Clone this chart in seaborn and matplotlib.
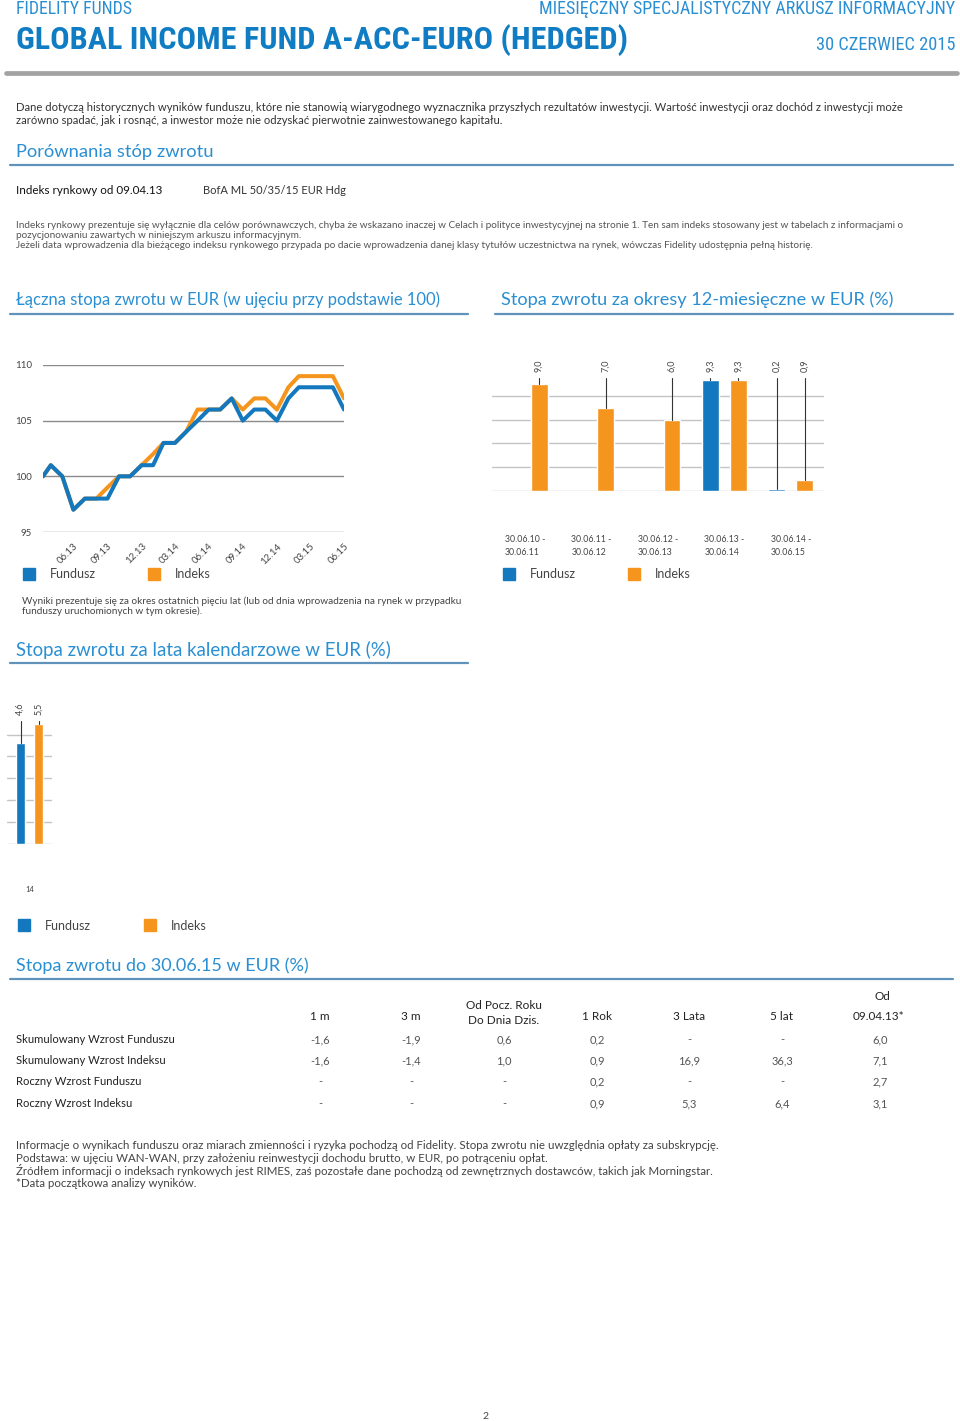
import numpy as np
import pandas as pd
import seaborn as sns
import matplotlib.pyplot as plt
from matplotlib import font_manager
from matplotlib.patches import Rectangle
from matplotlib.lines import Line2D

line_dates = ['2013-04-09', '2013-04-30', '2013-05-31', '2013-06-30', '2013-07-31',
              '2013-08-31', '2013-09-30', '2013-10-31', '2013-11-30', '2013-12-31',
              '2014-01-31', '2014-02-28', '2014-03-31', '2014-04-30', '2014-05-31',
              '2014-06-30', '2014-07-31', '2014-08-31', '2014-09-30', '2014-10-31',
              '2014-11-30', '2014-12-31', '2015-01-31', '2015-02-28', '2015-03-31',
              '2015-04-30', '2015-05-31', '2015-06-30']
fund_100 = [100, 101, 100, 97, 98, 98, 98, 100, 100, 101, 101, 103, 103, 104,
            105, 106, 106, 107, 105, 106, 106, 105, 107, 108, 108, 108, 108, 106]
index_100 = [100, 101, 100, 97, 98, 98, 99, 100, 100, 101, 102, 103, 103, 104,
             106, 106, 106, 107, 106, 107, 107, 106, 108, 109, 109, 109, 109, 107]
line_tick_dates = ['2013-06-30', '2013-09-30', '2013-12-31', '2014-03-31', '2014-06-30',
                   '2014-09-30', '2014-12-31', '2015-03-31', '2015-06-30']
line_tick_labels = ['06.13', '09.13', '12.13', '03.14', '06.14', '09.14', '12.14', '03.15', '06.15']

periods = ['30.06.10 -\n30.06.11', '30.06.11 -\n30.06.12', '30.06.12 -\n30.06.13',
           '30.06.13 -\n30.06.14', '30.06.14 -\n30.06.15']
fund_12m = [np.nan, np.nan, np.nan, 9.3, 0.2]
index_12m = [9.0, 7.0, 6.0, 9.3, 0.9]

years = ['14']
fund_cal = [4.6]
index_cal = [5.5]

table_cols = ['1 m', '3 m', 'Od Pocz. Roku\nDo Dnia Dzis.', '1 Rok', '3 Lata', '5 lat', 'Od\n09.04.13*']
table_rows = ['Skumulowany Wzrost Funduszu', 'Skumulowany Wzrost Indeksu',
              'Roczny Wzrost Funduszu', 'Roczny Wzrost Indeksu']
cum_fund = ['-1,6', '-1,9', '0,6', '0,2', '-', '-', '6,0']
cum_index = ['-1,6', '-1,4', '1,0', '0,9', '16,9', '36,3', '7,1']
ann_fund = ['-', '-', '-', '0,2', '-', '-', '2,7']
ann_index = ['-', '-', '-', '0,9', '5,3', '6,4', '3,1']

BLUE = '#1378bd'
ORANGE = '#f5951e'
HEAD = '#2a8fd2'
RULE = '#5f93bb'
TXT = '#333333'

sns.set_style('white')
plt.rcParams['font.family'] = ['Lato', 'DejaVu Sans']

# a condensed face for the header, if one is installed
avail = {f.name for f in font_manager.fontManager.ttflist}
narrow = next((n for n in ['Liberation Sans Narrow', 'Roboto Condensed', 'DejaVu Sans Condensed',
                           'Open Sans Condensed'] if n in avail), 'Roboto')

W, H = 960, 1421
fig = plt.figure(figsize=(W / 100, H / 100), dpi=100)
renderer = fig.canvas.get_renderer()


def fx(x):
    return x / W


def fy(y):
    return 1 - y / H


def text(x, y, s, width=None, **kw):
    kw.setdefault('va', 'center')
    kw.setdefault('color', TXT)
    t = fig.text(fx(x), fy(y + 1.5), s, **kw)
    if width:
        # scale the font so the line is as long as in the reference
        w = t.get_window_extent(renderer).width
        t.set_fontsize(t.get_fontsize() * width / w)
    return t


def hrule(x0, x1, y, color=RULE, lw=1.6):
    fig.add_artist(Line2D([fx(x0), fx(x1)], [fy(y), fy(y)], color=color, lw=lw,
                          transform=fig.transFigure))


def px_axes(x0, y0, x1, y1):
    return fig.add_axes([fx(x0), fy(y1), (x1 - x0) / W, (y1 - y0) / H])


def legend(x, y, gap):
    for i, (lab, col) in enumerate([('Fundusz', BLUE), ('Indeks', ORANGE)]):
        xx = x + i * gap
        fig.add_artist(Rectangle((fx(xx), fy(y + 6)), 12 / W, 12 / H, color=col,
                                 transform=fig.transFigure))
        text(xx + 27, y - 1, lab, fontsize=9, color='#444444')


# header
text(16, 8, 'FIDELITY FUNDS', width=115, fontsize=11, color=HEAD, family=narrow)
text(955, 8, 'MIESIĘCZNY SPECJALISTYCZNY ARKUSZ INFORMACYJNY', width=416, fontsize=11,
     color=HEAD, family=narrow, ha='right')
text(16, 39, 'GLOBAL INCOME FUND A-ACC-EURO (HEDGED)', width=611, fontsize=25, color='#0f7cc3',
     family=narrow, weight='bold')
text(955, 43, '30 CZERWIEC 2015', width=140, fontsize=11, color=HEAD, family=narrow, ha='right')
hrule(6, 957, 73, color='#a3a3a3', lw=3.4)

t = text(16, 106, 'Dane dotyczą historycznych wyników funduszu, które nie stanowią wiarygodnego '
         'wyznacznika przyszłych rezultatów inwestycji. Wartość inwestycji oraz dochód z inwestycji może',
         width=896, fontsize=8)
text(16, 118.5, 'zarówno spadać, jak i rosnąć, a inwestor może nie odzyskać pierwotnie '
     'zainwestowanego kapitału.', fontsize=t.get_fontsize())

text(16, 150, 'Porównania stóp zwrotu', fontsize=13.2, color=HEAD)
hrule(10, 953, 165)
text(16, 189, 'Indeks rynkowy od 09.04.13', fontsize=8.4, color='#111111')
text(203, 189, 'BofA ML 50/35/15 EUR Hdg', fontsize=8.0, color='#333333')

t = text(16, 224, 'Indeks rynkowy prezentuje się wyłącznie dla celów porównawczych, chyba że wskazano '
         'inaczej w Celach i polityce inwestycyjnej na stronie 1. Ten sam indeks stosowany jest w '
         'tabelach z informacjami o', width=887, fontsize=7, color='#555555')
small = dict(fontsize=t.get_fontsize(), color='#555555')
text(16, 234, 'pozycjonowaniu zawartych w niniejszym arkuszu informacyjnym.', **small)
text(16, 244, 'Jeżeli data wprowadzenia dla bieżącego indeksu rynkowego przypada po dacie '
     'wprowadzenia danej klasy tytułów uczestnictwa na rynek, wówczas Fidelity udostępnia '
     'pełną historię.', **small)

text(16, 298, 'Łączna stopa zwrotu w EUR (w ujęciu przy podstawie 100)', fontsize=11.9, color=HEAD)
hrule(10, 468, 314)
text(501, 298, 'Stopa zwrotu za okresy 12-miesięczne w EUR (%)', fontsize=13.1, color=HEAD)
hrule(495, 953, 314)

# cumulative line chart
line_df = pd.DataFrame({
    'date': pd.to_datetime(line_dates * 2),
    'value': fund_100 + index_100,
    'series': ['Fundusz'] * len(fund_100) + ['Indeks'] * len(index_100),
})
ax1 = px_axes(43, 365, 344, 532)
sns.lineplot(data=line_df, x='date', y='value', hue='series', hue_order=['Indeks', 'Fundusz'],
             palette={'Fundusz': BLUE, 'Indeks': ORANGE}, linewidth=2.9, legend=False, ax=ax1)
ax1.set_xlim(pd.Timestamp(line_dates[0]), pd.Timestamp(line_dates[-1]))
ax1.set_ylim(95, 110)
ax1.set_yticks([95, 100, 105, 110])
ax1.yaxis.grid(True, color='#8a8a8a', lw=1)
ax1.set_axisbelow(True)
ax1.set_xticks(pd.to_datetime(line_tick_dates))
ax1.set_xticklabels(line_tick_labels, rotation=45, ha='right', va='top', rotation_mode='anchor')
ax1.tick_params(axis='x', length=0, pad=7, labelsize=7, labelcolor='#444444')
ax1.tick_params(axis='y', length=0, pad=8, labelsize=7, labelcolor='#444444')
ax1.set_xlabel('')
ax1.set_ylabel('')
sns.despine(ax=ax1, left=True, bottom=True)
legend(23, 574, 125)

# 12-month bars
unit = 11.9  # px per percentage point
bar_df = pd.DataFrame({
    'period': periods * 2,
    'value': fund_12m + index_12m,
    'series': ['Fundusz'] * len(periods) + ['Indeks'] * len(periods),
})
ax2 = px_axes(492, 340, 824, 491)
sns.barplot(data=bar_df, x='period', y='value', hue='series', order=periods,
            hue_order=['Fundusz', 'Indeks'], palette={'Fundusz': BLUE, 'Indeks': ORANGE},
            width=0.84, gap=0.4, saturation=1, legend=False, ax=ax2)
ax2.set_xlim(-0.5, 4.5)
ax2.set_ylim(0, 151 / unit)
ax2.set_yticks([0, 2, 4, 6, 8])
ax2.set_yticklabels([])
ax2.yaxis.grid(True, color='#c4c4c4', lw=1)
ax2.set_axisbelow(True)
ax2.tick_params(axis='x', length=0, pad=32, labelsize=6.3, labelcolor='#444444')
ax2.tick_params(axis='y', length=0)
for lab in ax2.get_xticklabels():
    lab.set_multialignment('left')
    lab.set_linespacing(1.45)
ax2.set_xlabel('')
ax2.set_ylabel('')
sns.despine(ax=ax2, left=True, bottom=True)
for p in ax2.patches:
    h = p.get_height()
    if np.isnan(h) or h == 0:
        continue
    cx = p.get_x() + p.get_width() / 2
    ax2.plot([cx, cx], [h, (491 - 378) / unit], color='#333333', lw=0.8, clip_on=False)
    ax2.text(cx, (491 - 366) / unit, f'{h:.1f}'.replace('.', ','), rotation=90,
             ha='center', va='center', fontsize=6.5, color='#444444', clip_on=False)
legend(503, 574, 125)

t = text(22, 600, 'Wyniki prezentuje się za okres ostatnich pięciu lat (lub od dnia wprowadzenia '
         'na rynek w przypadku', width=440, fontsize=7, color='#444444')
text(22, 610, 'funduszy uruchomionych w tym okresie).', fontsize=t.get_fontsize(), color='#444444')

text(16, 648, 'Stopa zwrotu za lata kalendarzowe w EUR (%)', fontsize=13.4, color=HEAD)
hrule(10, 468, 663)

# calendar year bars
cunit = 21.9
cal_df = pd.DataFrame({
    'year': years * 2,
    'value': fund_cal + index_cal,
    'series': ['Fundusz'] * len(years) + ['Indeks'] * len(years),
})
ax3 = px_axes(7, 690, 52, 844)
sns.barplot(data=cal_df, x='year', y='value', hue='series', hue_order=['Fundusz', 'Indeks'],
            palette={'Fundusz': BLUE, 'Indeks': ORANGE}, width=0.8, gap=0.45,
            saturation=1, legend=False, ax=ax3)
ax3.set_xlim(-0.5, 0.5)
ax3.set_ylim(0, 154 / cunit)
ax3.set_yticks([0, 1, 2, 3, 4, 5])
ax3.set_yticklabels([])
ax3.yaxis.grid(True, color='#c4c4c4', lw=1)
ax3.set_axisbelow(True)
ax3.tick_params(axis='x', length=0, pad=30, labelsize=5.5, labelcolor='#444444')
ax3.tick_params(axis='y', length=0)
ax3.set_xlabel('')
ax3.set_ylabel('')
sns.despine(ax=ax3, left=True, bottom=True)
for p in ax3.patches:
    h = p.get_height()
    if np.isnan(h) or h == 0:
        continue
    cx = p.get_x() + p.get_width() / 2
    ax3.plot([cx, cx], [h, (844 - 721) / cunit], color='#333333', lw=0.8, clip_on=False)
    ax3.text(cx, (844 - 709) / cunit, f'{h:.1f}'.replace('.', ','), rotation=90,
             ha='center', va='center', fontsize=6.5, color='#444444', clip_on=False)
legend(18, 925, 126)

# table
text(16, 964, 'Stopa zwrotu do 30.06.15 w EUR (%)', fontsize=13, color=HEAD)
hrule(10, 953, 979)
col_x = [320, 411, 504, 597, 689, 782, 880]
head = dict(fontsize=8.5, color='#222222', ha='center')
for cx, c in zip(col_x, table_cols):
    if c.startswith('Od\n'):
        top, bot = c.split('\n')
        text(cx + 2, 995, top, **head)
        text(cx - 2, 1015, bot, **head)
    elif '\n' in c:
        top, bot = c.split('\n')
        text(cx, 1004, top, **head)
        text(cx, 1019, bot, **head)
    else:
        text(cx, 1015, c, **head)
row_y = [1038, 1059, 1080, 1102]
for ry, name, vals in zip(row_y, table_rows, [cum_fund, cum_index, ann_fund, ann_index]):
    text(16, ry, name, fontsize=8.1, color='#222222')
    for cx, v in zip(col_x, vals):
        text(cx, ry, v, fontsize=8, color='#555555', ha='center')

t = text(16, 1144, 'Informacje o wynikach funduszu oraz miarach zmienności i ryzyka pochodzą od '
         'Fidelity. Stopa zwrotu nie uwzględnia opłaty za subskrypcję.', width=711, fontsize=8,
         color='#444444')
foot = dict(fontsize=t.get_fontsize(), color='#444444')
text(16, 1157, 'Podstawa: w ujęciu WAN-WAN, przy założeniu reinwestycji dochodu brutto, w EUR, '
     'po potrąceniu opłat.', **foot)
text(16, 1169, 'Źródłem informacji o indeksach rynkowych jest RIMES, zaś pozostałe dane pochodzą '
     'od zewnętrznych dostawców, takich jak Morningstar.', **foot)
text(16, 1182, '*Data początkowa analizy wyników.', **foot)
text(485, 1415, '2', fontsize=7.5, color='#444444', ha='center')

fig.savefig('out.png', dpi=100)
